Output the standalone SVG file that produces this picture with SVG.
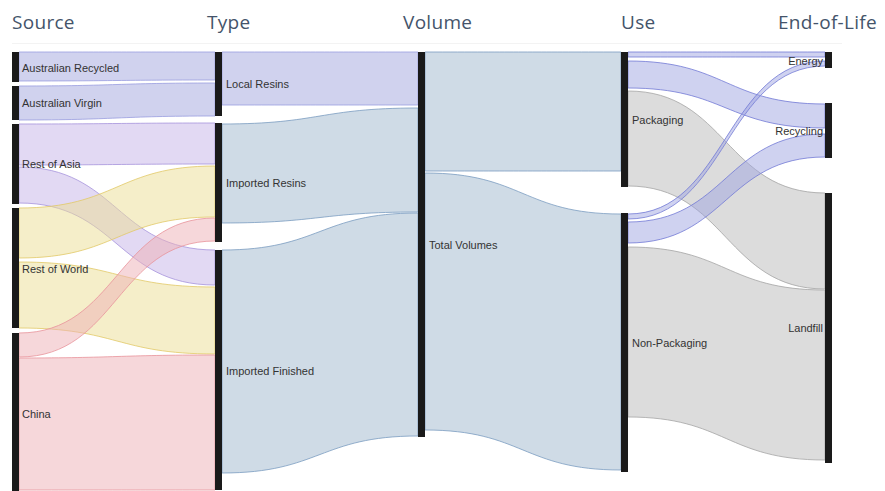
<svg xmlns="http://www.w3.org/2000/svg" width="885" height="491" viewBox="0 0 885 491">
<style>
.hdr{font-family:"Open Sans","Liberation Sans",sans-serif;font-size:19px;fill:#44546A;letter-spacing:0.3px}
.lbl{font-family:"Liberation Sans",Arial,sans-serif;font-size:11px;fill:#333333}
.end{text-anchor:end}
.bar{fill:#1a1a1a}
.f{fill-opacity:0.5;stroke-width:1;stroke-opacity:0.8}
.aus{fill:#a1a5dd;stroke:#9a9ee0}
.asia{fill:#c5b3e7;stroke:#a694dc}
.row{fill:#ebdd93;stroke:#e2c968}
.cn{fill:#edafb5;stroke:#e8939b}
.vol{fill:#9fb7cd;stroke:#7a9cc0}
.rec{fill:#9ba1e0;stroke:#737ad6;fill-opacity:0.48}
.gry{fill:#b9b9b9;stroke:#a5a5a5}
</style>
<rect width="885" height="491" fill="#ffffff"/>
<line x1="12" y1="43.5" x2="842" y2="43.5" stroke="#f3f3f3" stroke-width="1"/>
<g id="headers">
<text class="hdr" x="12" y="29">Source</text>
<text class="hdr" x="207" y="29">Type</text>
<text class="hdr" x="403" y="29">Volume</text>
<text class="hdr" x="621" y="29">Use</text>
<text class="hdr" x="778" y="29">End-of-Life</text>
</g>
<g id="connectors">
<path class="f aus" d="M19,52 C117,52 117,52 215,52 L215,80 C117,80 117,81 19,81 Z"/>
<path class="f aus" d="M19,86 C117,86 117,83 215,83 L215,116 C117,116 117,120 19,120 Z"/>
<path class="f asia" d="M19,124 C117,124 117,123 215,123 L215,164 C117,164 117,165 19,165 Z"/>
<path class="f asia" d="M19,167 C117,167 117,250 215,250 L215,285 C117,285 117,203 19,203 Z"/>
<path class="f row" d="M19,208 C117,208 117,166 215,166 L215,217 C117,217 117,258 19,258 Z"/>
<path class="f row" d="M19,262 C117,262 117,287 215,287 L215,354 C117,354 117,328 19,328 Z"/>
<path class="f cn" d="M19,333 C117,333 117,218 215,218 L215,241 C117,241 117,357 19,357 Z"/>
<path class="f cn" d="M19,358 C117,358 117,355 215,355 L215,490 C117,490 117,490 19,490 Z"/>
<path class="f aus" d="M222,52 C320,52 320,52 418,52 L418,105 C320,105 320,105 222,105 Z"/>
<path class="f vol" d="M222,124 C320,124 320,108 418,108 L418,212 C320,212 320,223 222,223 Z"/>
<path class="f vol" d="M222,250 C320,250 320,213 418,213 L418,436 C320,436 320,473 222,473 Z"/>
<path class="f vol" d="M425,52 C523,52 523,52 621,52 L621,171 C523,171 523,171 425,171 Z"/>
<path class="f vol" d="M425,173 C523,173 523,214 621,214 L621,470 C523,470 523,430 425,430 Z"/>
<path class="f gry" d="M628,91 C726,91 726,193 825,193 L825,289 C726,289 726,186 628,186 Z"/>
<path class="f gry" d="M628,247 C726,247 726,290 825,290 L825,460 C726,460 726,417 628,417 Z"/>
<path class="f rec" d="M628,52 C726,52 726,52 825,52 L825,57 C726,57 726,57 628,57 Z"/>
<path class="f rec" d="M628,61 C726,61 726,104 825,104 L825,128 C726,128 726,88 628,88 Z"/>
<path class="f rec" d="M628,214 C726,214 726,61 825,61 L825,66 C726,66 726,219 628,219 Z"/>
<path class="f rec" d="M628,222 C726,222 726,134 825,134 L825,157 C726,157 726,243 628,243 Z"/>
</g>
<g id="source-australian-recycled"><rect class="bar" x="12" y="52" width="7" height="30"/><text class="lbl" x="22" y="72">Australian Recycled</text></g>
<g id="source-australian-virgin"><rect class="bar" x="12" y="86" width="7" height="34"/><text class="lbl" x="22" y="107">Australian Virgin</text></g>
<g id="source-rest-of-asia"><rect class="bar" x="12" y="124" width="7" height="80"/><text class="lbl" x="22" y="168">Rest of Asia</text></g>
<g id="source-rest-of-world"><rect class="bar" x="12" y="208" width="7" height="120"/><text class="lbl" x="22" y="273">Rest of World</text></g>
<g id="source-china"><rect class="bar" x="12" y="333" width="7" height="158"/><text class="lbl" x="22" y="418">China</text></g>
<g id="type-local-resins"><rect class="bar" x="215" y="52" width="7" height="64"/><text class="lbl" x="226" y="88">Local Resins</text></g>
<g id="type-imported-resins"><rect class="bar" x="215" y="123" width="7" height="119"/><text class="lbl" x="226" y="187">Imported Resins</text></g>
<g id="type-imported-finished"><rect class="bar" x="215" y="250" width="7" height="240"/><text class="lbl" x="226" y="375">Imported Finished</text></g>
<g id="volume-total"><rect class="bar" x="418" y="52" width="7" height="385"/><text class="lbl" x="429" y="249">Total Volumes</text></g>
<g id="use-packaging"><rect class="bar" x="621" y="52" width="7" height="135"/><text class="lbl" x="632" y="124">Packaging</text></g>
<g id="use-non-packaging"><rect class="bar" x="621" y="213" width="7" height="259"/><text class="lbl" x="632" y="347">Non-Packaging</text></g>
<g id="eol-energy"><rect class="bar" x="825" y="52" width="7" height="16"/><text class="lbl end" x="823" y="65">Energy</text></g>
<g id="eol-recycling"><rect class="bar" x="825" y="103" width="7" height="55"/><text class="lbl end" x="823" y="135">Recycling</text></g>
<g id="eol-landfill"><rect class="bar" x="825" y="193" width="7" height="270"/><text class="lbl end" x="823" y="332">Landfill</text></g>
</svg>
